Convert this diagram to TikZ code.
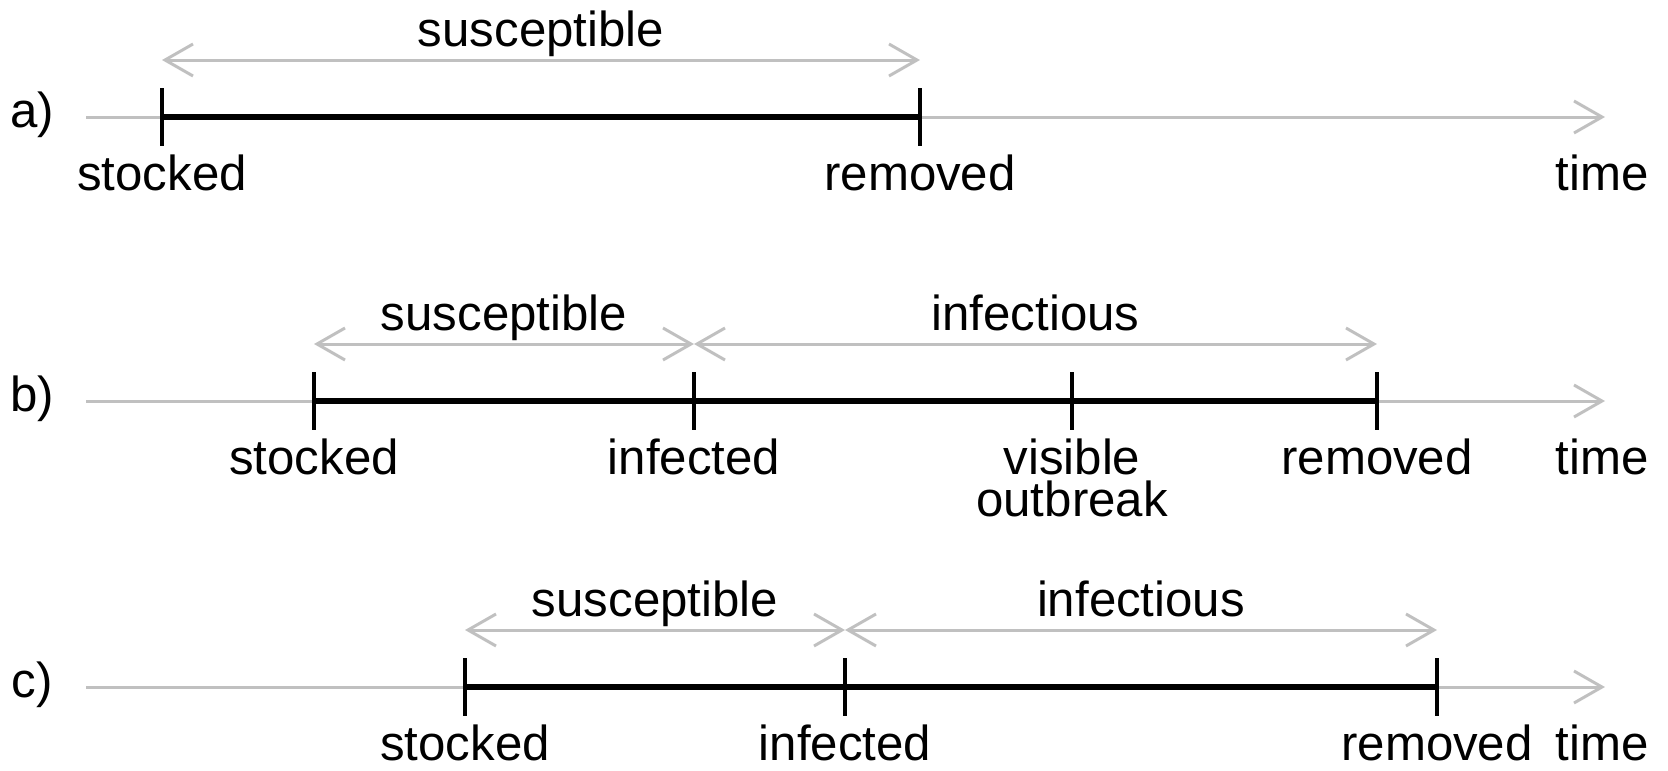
\documentclass[tikz,border=0pt]{standalone}
\usepackage{fontspec}
\setmainfont{Liberation Sans}
\usepackage{xcolor}
\usepackage{tikz}
\usetikzlibrary{arrows.meta, positioning, calc}
\definecolor{AxisGrey}{RGB}{192, 192, 192}

\tikzset{
  barb/.tip={Straight Barb[length=2.8mm, width=3.2mm]},
  timeaxis/.style={draw=AxisGrey, line width=0.85pt, -barb},
  spanarrow/.style={draw=AxisGrey, line width=0.85pt, barb-barb},
  lifeline/.style={draw=black, line width=1.6pt},
  tickmark/.style={draw=black, line width=0.9pt},
  eventlabel/.style={anchor=base, inner sep=0pt, align=center,
                     font=\fontsize{14}{12}\selectfont},
  spanlabel/.style={anchor=base, inner sep=0pt, yshift=1.4mm,
                    font=\fontsize{14}{12}\selectfont},
  rowlabel/.style={inner sep=0pt, font=\fontsize{14}{12}\selectfont}
}

\begin{document}
\begin{tikzpicture}
  \useasboundingbox (0,0) rectangle (16.68,-7.70);

  % a) susceptible only
  \coordinate (aStart) at (0.86,-1.17);
  \coordinate (aEnd) at (16.05,-1.17);
  \coordinate (aSto) at (1.62,-1.17);
  \coordinate (aRem) at (9.20,-1.17);
  \node[rowlabel] (aTag) at (0.32,-1.15) {a)};
  \draw[timeaxis] (aStart) -- (aEnd);
  \draw[lifeline] (aSto) -- (aRem);
  \draw[tickmark] ($(aSto)+(0,0.29)$) -- ($(aSto)+(0,-0.29)$);
  \draw[tickmark] ($(aRem)+(0,0.29)$) -- ($(aRem)+(0,-0.29)$);
  \draw[spanarrow] ($(aSto)+(0,0.57)$) -- ($(aRem)+(0,0.57)$)
    node[spanlabel, midway] (aSus) {susceptible};
  \node[eventlabel] (aStoLab) at ($(aSto)+(0,-0.73)$) {stocked};
  \node[eventlabel] (aRemLab) at ($(aRem)+(0,-0.73)$) {removed};
  \node[eventlabel] (aTime) at ($(aEnd)+(-0.03,-0.73)$) {time};

  % b) infected, outbreak seen
  \coordinate (bStart) at (0.86,-4.01);
  \coordinate (bEnd) at (16.05,-4.01);
  \coordinate (bSto) at (3.14,-4.01);
  \coordinate (bInf) at (6.94,-4.01);
  \coordinate (bVis) at (10.72,-4.01);
  \coordinate (bRem) at (13.77,-4.01);
  \node[rowlabel] (bTag) at (0.32,-3.99) {b)};
  \draw[timeaxis] (bStart) -- (bEnd);
  \draw[lifeline] (bSto) -- (bRem);
  \foreach \t in {bSto, bInf, bVis, bRem}
    \draw[tickmark] ($(\t)+(0,0.29)$) -- ($(\t)+(0,-0.29)$);
  \draw[spanarrow] ($(bSto)+(0,0.57)$) -- ($(bInf)+(0,0.57)$)
    node[spanlabel, midway] (bSus) {susceptible};
  \draw[spanarrow] ($(bInf)+(0,0.57)$) -- ($(bRem)+(0,0.57)$)
    node[spanlabel, midway] (bInfc) {infectious};
  \node[eventlabel] (bStoLab) at ($(bSto)+(0,-0.73)$) {stocked};
  \node[eventlabel] (bInfLab) at ($(bInf)+(0,-0.73)$) {infected};
  \node[eventlabel] (bVisLab) at ($(bVis)+(0,-1.155)$) {visible\\outbreak};
  \node[eventlabel] (bRemLab) at ($(bRem)+(0,-0.73)$) {removed};
  \node[eventlabel] (bTime) at ($(bEnd)+(-0.03,-0.73)$) {time};

  % c) infected, no outbreak seen
  \coordinate (cStart) at (0.86,-6.87);
  \coordinate (cEnd) at (16.05,-6.87);
  \coordinate (cSto) at (4.65,-6.87);
  \coordinate (cInf) at (8.45,-6.87);
  \coordinate (cRem) at (14.37,-6.87);
  \node[rowlabel] (cTag) at (0.32,-6.85) {c)};
  \draw[timeaxis] (cStart) -- (cEnd);
  \draw[lifeline] (cSto) -- (cRem);
  \foreach \t in {cSto, cInf, cRem}
    \draw[tickmark] ($(\t)+(0,0.29)$) -- ($(\t)+(0,-0.29)$);
  \draw[spanarrow] ($(cSto)+(0,0.57)$) -- ($(cInf)+(0,0.57)$)
    node[spanlabel, midway] (cSus) {susceptible};
  \draw[spanarrow] ($(cInf)+(0,0.57)$) -- ($(cRem)+(0,0.57)$)
    node[spanlabel, midway] (cInfc) {infectious};
  \node[eventlabel] (cStoLab) at ($(cSto)+(0,-0.73)$) {stocked};
  \node[eventlabel] (cInfLab) at ($(cInf)+(0,-0.73)$) {infected};
  \node[eventlabel] (cRemLab) at ($(cRem)+(0,-0.73)$) {removed};
  \node[eventlabel] (cTime) at ($(cEnd)+(-0.03,-0.73)$) {time};
\end{tikzpicture}
\end{document}
